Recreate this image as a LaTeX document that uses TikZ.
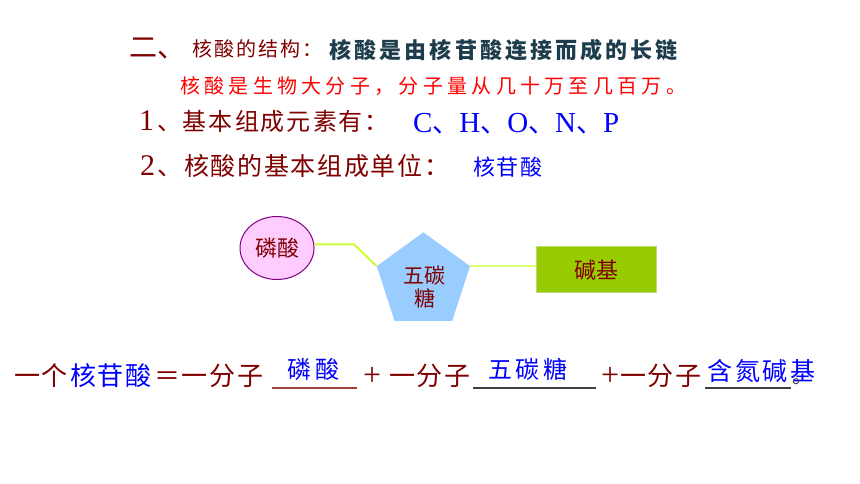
\documentclass[tikz,border=0pt]{standalone}
\usepackage{fontspec}
\usetikzlibrary{shapes.geometric}
\newfontfamily\cjk{Noto Sans CJK SC}
\newfontfamily\tms{Liberation Serif}
\definecolor{maroon}{HTML}{800000}
\definecolor{slate}{HTML}{1D3D4D}
\definecolor{tblue}{HTML}{0000FF}
\definecolor{tred}{HTML}{FF0000}
\definecolor{linkc}{HTML}{CCFF33}
\definecolor{pinkf}{HTML}{FFCCFF}
\definecolor{purpb}{HTML}{800080}
\definecolor{sugarf}{HTML}{99CCFF}
\definecolor{basef}{HTML}{99CC00}
\definecolor{baseb}{HTML}{BBDD77}
\newcommand\spreadchars[2]{\def\spw{#1}\spreadloop#2\relax}
\def\spreadloop#1{\ifx\relax#1\else\makebox[\spw]{#1}\expandafter\spreadloop\fi}
\newcommand\fs[1]{\fontsize{#1}{#1}\selectfont}
\tikzset{
  txt/.style={inner sep=0pt, outer sep=0pt, anchor=base west, font=\cjk},
  link/.style={draw=linkc, line width=2pt},
  uline/.style={line width=2pt},
}
\begin{document}
\begin{tikzpicture}[x=1pt, y=-1pt]
\useasboundingbox[fill=white] (0,0) rectangle (860,484);
% title lines
\node[txt, text=maroon] (t1a) at (129,58) {\fs{28}\spreadchars{28pt}{二、}};
\node[txt, text=maroon] (t1b) at (191,57) {\fs{20}\spreadchars{22pt}{核酸的结构：}};
\node[txt, text=slate] (t1c) at (328,59) {\fs{22}\bfseries\spreadchars{25.1pt}{核酸是由核苷酸连接而成的长链}};
\node[txt, text=tred] (t2) at (178,94) {\fs{20}\spreadchars{24.3pt}{核酸是生物大分子，分子量从几十万至几百万。}};
% line 3
\node[txt, text=maroon] (t3a) at (139,131) {\tms\fs{30}1};
\node[txt, text=maroon] (t3b) at (156,131) {\fs{24}\spreadchars{26pt}{、基本组成元素有：}};
\node[txt, text=tblue] (t3c) at (413,133) {\tms\fs{29}C{\cjk\fs{27}、}H{\cjk\fs{27}、}O{\cjk\fs{27}、}N{\cjk\fs{27}、}P};
% line 4
\node[txt, text=maroon] (t4a) at (140,176) {\tms\fs{30}2};
\node[txt, text=maroon] (t4b) at (156.5,176) {\fs{25}\spreadchars{26.7pt}{、核酸的基本组成单位：}};
\node[txt, text=tblue] (t4c) at (472,176) {\fs{22}\spreadchars{24pt}{核苷酸}};
% diagram
\node[ellipse, draw=purpb, fill=pinkf, line width=1pt, minimum width=74pt, minimum height=63pt, inner sep=0pt, text=maroon, font=\cjk\fs{22}] (phos) at (277,248) {磷酸};
\node[regular polygon, regular polygon sides=5, fill=sugarf, minimum size=98pt, inner sep=0pt] (sugar) at (423.4,281.3) {};
\node[inner sep=0pt, align=center, text=maroon, font=\cjk\fs{21}] (sugarlbl) at (424.5,287) {五碳\\[2pt]糖};
\node[rectangle, draw=baseb, fill=basef, line width=1pt, minimum width=120pt, minimum height=46pt, inner sep=0pt, text=maroon, font=\cjk\fs{22}] (base) at (596,269.7) {碱基};
\coordinate (bend) at (354,244.3);
\draw[link] (bend -| phos.east) -- (bend) -- (sugar.corner 2);
\draw[link, draw=linkc!70!white] (sugar.corner 5) -- (sugar.corner 5 -| base.west);
% bottom equation
\node[txt, text=maroon] (e1) at (13,385) {\fs{26}\spreadchars{28pt}{一个}};
\node[txt, text=tblue] (e2) at (69,385) {\fs{26}\spreadchars{28pt}{核苷酸}};
\node[txt, text=maroon] (e3) at (153,385) {\fs{26}\spreadchars{28pt}{＝一分子}};
\node[txt, text=tblue] (f1) at (286,378) {\fs{24}\spreadchars{27.5pt}{磷酸}};
\node[txt, text=maroon] (p1) at (363,385) {\tms\fs{32}+};
\node[txt, text=maroon] (e4) at (388,385) {\fs{26}\spreadchars{28pt}{一分子}};
\node[txt, text=tblue] (f2) at (487,378) {\fs{24}\spreadchars{27.3pt}{五碳糖}};
\node[txt, text=maroon] (p2) at (601,385) {\tms\fs{32}+};
\node[txt, text=maroon] (e5) at (619,385) {\fs{26}\spreadchars{28pt}{一分子}};
\node[txt, text=tblue] (f3) at (706,380) {\fs{25}\spreadchars{27.7pt}{含氮碱基}};
\node[txt, text=black!80] (dot) at (792,383) {\fs{20}。};
\draw[uline, draw={rgb,255:red,160;green,64;blue,64}] (272,388) -- (357,388);
\draw[uline, draw={rgb,255:red,64;green,64;blue,64}] (473,388) -- (596,388);
\draw[uline, draw={rgb,255:red,64;green,64;blue,64}] (705,388) -- (791,388);
\end{tikzpicture}
\end{document}
